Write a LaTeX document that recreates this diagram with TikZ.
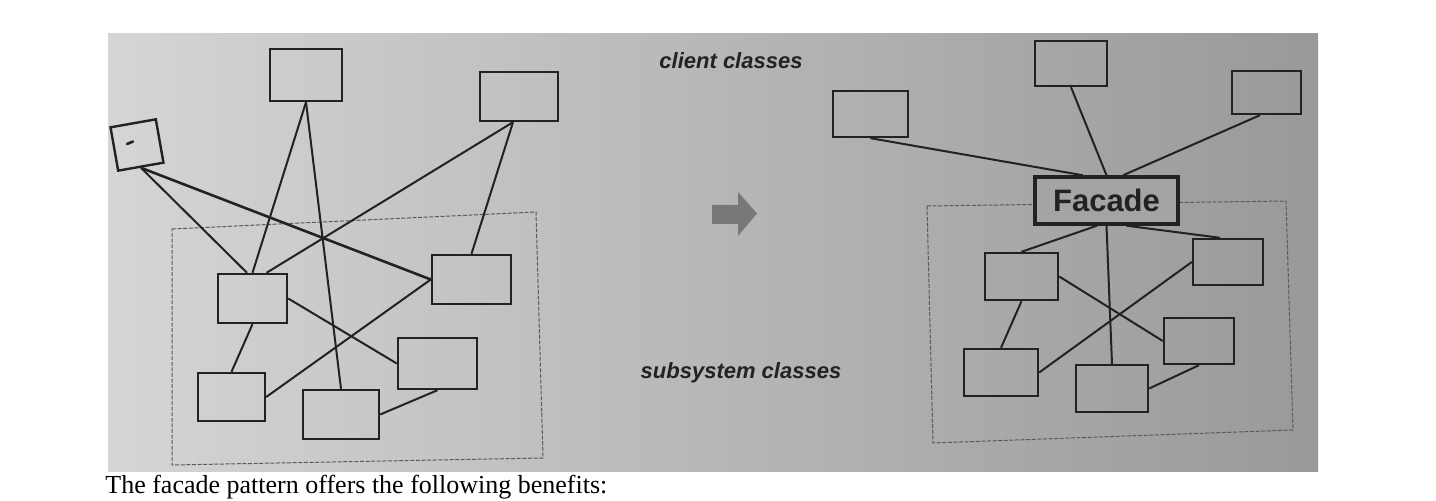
\documentclass[tikz,border=0pt]{standalone}
\usepackage{fontspec}
\setmainfont{Liberation Serif}
\setsansfont{Liberation Sans}
\usepackage{tikz}

\definecolor{pagelight}{RGB}{212,213,213}
\definecolor{pagedark}{RGB}{152,153,154}
\definecolor{ink}{RGB}{34,34,34}
\definecolor{arrowgray}{RGB}{120,120,120}
\definecolor{facadefill}{RGB}{163,164,165}

\begin{document}
\begin{tikzpicture}[x=0.5pt, y=-0.5pt,
	cls/.style={draw=ink, line width=1.2pt, inner sep=0pt},
	link/.style={draw=ink, line width=1pt},
	subsys/.style={draw=ink!75, line width=0.5pt, dash pattern=on 2pt off 0.8pt},
	caption/.style={font=\sffamily\bfseries\itshape\fontsize{11}{13}\selectfont, text=ink}]

	\useasboundingbox (0,0) rectangle (1436,501);
	\shade[left color=pagelight, right color=pagedark] (108,34) rectangle (1318,472);

	\draw[subsys] (172,229) -- (536,212) -- (543,458) -- (172,465) -- cycle;
	\draw[subsys] (927,206) -- (1286,201) -- (1293,430) -- (933,443) -- cycle;

	\node[cls, rotate=10, minimum width=23pt, minimum height=22pt] (lc) at (137,145) {};
	\node[cls, minimum width=36pt, minimum height=26pt] (tm) at (306,75) {};
	\node[cls, minimum width=39pt, minimum height=24.5pt] (tr) at (519,96.5) {};
	\draw[ink, line width=1.3pt, line cap=round] (127,144) -- (133,141.5);

	\node[cls, minimum width=34.5pt, minimum height=24.5pt] (sa) at (252.5,298.5) {};
	\node[cls, minimum width=39.5pt, minimum height=24.5pt] (sb) at (471.5,279.5) {};
	\node[cls, minimum width=33.5pt, minimum height=24pt] (sc) at (231.5,397) {};
	\node[cls, minimum width=38pt, minimum height=24.5pt] (sd) at (341,414.5) {};
	\node[cls, minimum width=39.5pt, minimum height=25.5pt] (se) at (437.5,363.5) {};

	\draw[link] (lc.south) -- ([xshift=-2.75pt]sa.north);
	\draw[link, line width=1.3pt] (lc.south) -- (sb.west);
	\draw[link] (tm.south) -- (sa.north);
	\draw[link] (tm.south) -- (sd.north);
	\draw[link] ([xshift=-3pt]tr.south) -- ([xshift=7pt]sa.north);
	\draw[link] ([xshift=-3pt]tr.south) -- (sb.north);
	\draw[link] (sa.east) -- (se.west);
	\draw[link] (sa.south) -- (sc.north);
	\draw[link] (sb.west) -- (sc.east);
	\draw[link] (se.south) -- (sd.east);

	\node[caption] (client) at (731,61) {client classes};
	\node[caption] (subsystem) at (741,373) {subsystem classes};

	\fill[arrowgray] (712,205) -- (738,205) -- (738,192) -- (757,213.5) -- (738,236) -- (738,224) -- (712,224) -- cycle;

	\node[cls, minimum width=37.5pt, minimum height=23pt] (k1) at (870.5,114) {};
	\node[cls, minimum width=36pt, minimum height=22.5pt] (k2) at (1071,63.5) {};
	\node[cls, minimum width=34.5pt, minimum height=21.5pt] (k3) at (1266.5,92.5) {};
	\node[cls, line width=1.7pt, fill=facadefill, minimum width=71.5pt, minimum height=23.5pt,
		font=\sffamily\bfseries\fontsize{15.5}{17}\selectfont, text=ink] (facade) at (1106.5,200.5) {Facade};

	\node[cls, minimum width=36.5pt, minimum height=23.5pt] (f1) at (1021.5,276.5) {};
	\node[cls, minimum width=35pt, minimum height=23pt] (f2) at (1228,262) {};
	\node[cls, minimum width=37pt, minimum height=23.5pt] (f3) at (1001,372.5) {};
	\node[cls, minimum width=36pt, minimum height=23.5pt] (f4) at (1112,388.5) {};
	\node[cls, minimum width=35pt, minimum height=23pt] (f5) at (1199,341) {};

	\draw[link] (k1.south) -- ([xshift=-11.75pt]facade.north);
	\draw[link] (k2.south) -- (facade.north);
	\draw[link] ([xshift=-3.25pt]k3.south) -- ([xshift=8.25pt]facade.north);
	\draw[link] ([xshift=-4.75pt]facade.south) -- (f1.north);
	\draw[link] (facade.south) -- (f4.north);
	\draw[link] ([xshift=10pt]facade.south) -- ([xshift=-4pt]f2.north);
	\draw[link] (f1.east) -- (f5.west);
	\draw[link] (f2.west) -- (f3.east);
	\draw[link] (f1.south) -- (f3.north);
	\draw[link] (f5.south) -- (f4.east);

	\node[anchor=base west, inner sep=0pt, font=\fontsize{13}{15}\selectfont] (benefits) at (105,494) {The facade pattern offers the following benefits:};

\end{tikzpicture}
\end{document}
